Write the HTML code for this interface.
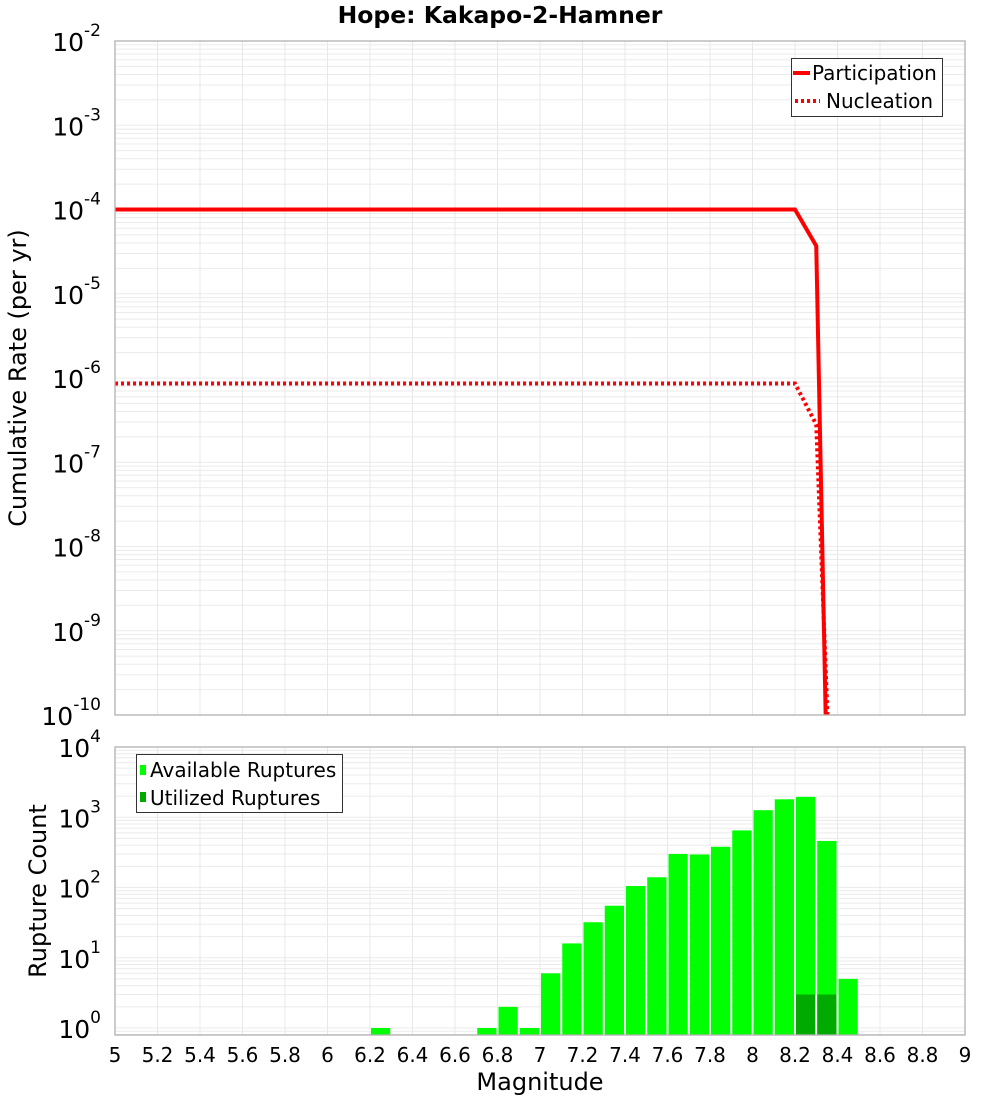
<!DOCTYPE html>
<html><head><meta charset="utf-8"><style>
body{margin:0;background:#fff}
svg{display:block;font-family:"DejaVu Sans","Liberation Sans",sans-serif}
</style></head><body>
<svg id="c" width="1000" height="1100" viewBox="0 0 1000 1100" xmlns="http://www.w3.org/2000/svg">
<text x="500" y="23" text-anchor="middle" font-size="23.5" font-weight="bold">Hope: Kakapo-2-Hamner</text>
<g id="topG"></g>
<g id="botG"></g>
<text transform="translate(26,378) rotate(-90)" text-anchor="middle" font-size="24">Cumulative Rate (per yr)</text>
<text transform="translate(46,891) rotate(-90)" text-anchor="middle" font-size="24">Rupture Count</text>
<text x="540" y="1090" text-anchor="middle" font-size="24">Magnitude</text>
</svg>
<script>
const rateMags=[5.0,8.2,8.3,8.4];
const participation=[1.0e-4,1.0e-4,3.7e-5,1e-17];
const nucleation=[8.6e-7,8.6e-7,2.8e-7,8e-14];
const binMags=[6.2,6.7,6.8,6.9,7.0,7.1,7.2,7.3,7.4,7.5,7.6,7.7,7.8,7.9,8.0,8.1,8.2,8.3,8.4];
const available=[1,1,2,1,6,16,32,55,105,140,300,295,380,650,1260,1800,1950,460,5];
const utilizedMags=[8.2,8.3];
const utilized=[3,3];
const xTicks=[5,5.2,5.4,5.6,5.8,6,6.2,6.4,6.6,6.8,7,7.2,7.4,7.6,7.8,8,8.2,8.4,8.6,8.8,9];
const topExp=[-2,-3,-4,-5,-6,-7,-8,-9,-10];
const botExp=[4,3,2,1,0];

const NS="http://www.w3.org/2000/svg";
const L=115,R=965;
const X=m=>L+(m-5)/4*(R-L);
const T0=41,T1=715;
const YT=v=>T0+(-2-Math.log10(v))*(T1-T0)/8;
const B0=747,B1=1035,Bpd=70.25;
const YB=v=>B0+(4-Math.log10(v))*Bpd;
function el(t,a,p){const e=document.createElementNS(NS,t);for(const k in a)e.setAttribute(k,a[k]);p.appendChild(e);return e;}
const topG=document.getElementById('topG'),botG=document.getElementById('botG');

function grid(g,y0,y1,Y,eMin,eMax,exps,prefix){
  for(let e=eMin;e<eMax;e++)for(let k=1;k<10;k++){const y=Y(k*Math.pow(10,e));if(y<y0-0.5||y>y1+0.5)continue;
    const l=el('line',{x1:L,x2:R,y1:y,y2:y,stroke:'#ebebeb','stroke-width':1},g);
    
    }
  xTicks.forEach(m=>{const l=el('line',{x1:X(m),x2:X(m),y1:y0,y2:y1,stroke:'#e8e8e8','stroke-width':1},g);
    
    });
  exps.forEach(e=>{const y=Y(Math.pow(10,e));
    const t=el('text',{x:101,y:y+10,'text-anchor':'end','font-size':25},g);
    
    
    t.textContent='10';
    const s=el('tspan',{dy:-15,'font-size':17},t);s.textContent=String(e);
  });
}
grid(topG,T0,T1,YT,-10,-2,topExp,'top');
grid(botG,B0,B1,YB,-1,4,botExp,'bottom');

function line(g,vals,dash,name){
  const cp=el('clipPath',{id:'cp'+name},g);el('rect',{x:L,y:T0,width:R-L,height:T1-T0},cp);
  const pts=rateMags.map((m,i)=>X(m)+','+YT(vals[i])).join(' ');
  const a={points:pts,fill:'none',stroke:'#ff0000','stroke-width':4,'clip-path':'url(#cp'+name+')'};
  if(dash)a['stroke-dasharray']='3,3';
  const p=el('polyline',a,g);
  
  
}
line(topG,participation,false,'participation');
line(topG,nucleation,true,'nucleation');

const bw=(R-L)/40;
binMags.forEach((m,i)=>{const y=YB(available[i]);
  const r=el('rect',{x:X(m)+1,y:y,width:bw-2,height:B1-y,fill:'#00ff00'},botG);
  
  });
utilizedMags.forEach((m,i)=>{const y=YB(utilized[i]);
  const r=el('rect',{x:X(m)+1,y:y,width:bw-2,height:B1-y,fill:'#00aa00'},botG);
  
  });

[[topG,T0,T1],[botG,B0,B1]].forEach(([g,a,b])=>{const r=el('rect',{x:L,y:a,width:R-L,height:b-a,fill:'none',stroke:'#b0b0b0','stroke-width':1.3},g);
  
  });

xTicks.forEach(m=>{const t=el('text',{x:X(m),y:1062,'text-anchor':'middle','font-size':20},botG);
  
  
  t.textContent=String(m);});

const lg=el('g',{},topG);


el('rect',{x:791.5,y:58.5,width:151,height:58,fill:'#fff',stroke:'#333','stroke-width':1},lg);
el('line',{x1:793,x2:810,y1:73,y2:73,stroke:'#f00','stroke-width':4},lg);
el('line',{x1:795,x2:820,y1:101,y2:101,stroke:'#f00','stroke-width':4,'stroke-dasharray':'3,3'},lg);
const t1=el('text',{x:812,y:80,'font-size':20},lg);t1.textContent='Participation';


const t2=el('text',{x:826,y:108,'font-size':20},lg);t2.textContent='Nucleation';



const bl=el('g',{},botG);


el('rect',{x:136.5,y:754.5,width:206,height:58,fill:'#fff',stroke:'#333','stroke-width':1},bl);
el('rect',{x:140,y:765,width:6,height:10,fill:'#00ff00'},bl);
el('rect',{x:140,y:792,width:6,height:10,fill:'#00aa00'},bl);
const t3=el('text',{x:150,y:777,'font-size':20},bl);t3.textContent='Available Ruptures';


const t4=el('text',{x:150,y:805,'font-size':20},bl);t4.textContent='Utilized Ruptures';


</script>
</body></html>
